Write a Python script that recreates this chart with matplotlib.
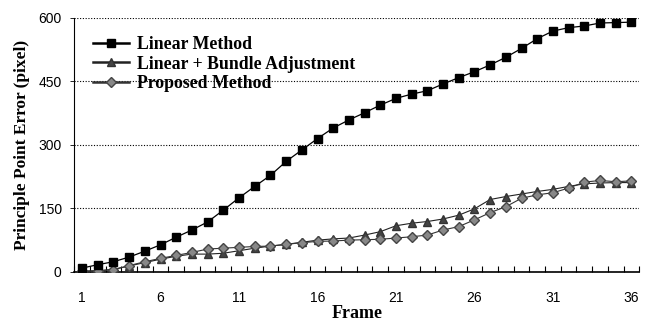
import matplotlib
matplotlib.use("Agg")
import matplotlib.pyplot as plt
import numpy as np

frames = list(range(1, 37))
linear = [9, 17, 24, 35, 49, 64, 82, 99, 118, 146, 175, 202, 228, 261, 288, 315,
          340, 359, 376, 394, 410, 420, 428, 444, 459, 473, 489, 507, 528, 551,
          569, 577, 581, 588, 589, 590]
linear_ba = [2, 3, 6, 14, 22, 30, 37, 42, 42, 44, 50, 56, 61, 65, 70, 75,
             78, 80, 87, 95, 109, 115, 119, 125, 134, 149, 171, 178, 184, 190,
             195, 202, 208, 210, 211, 211]
proposed = [1, 2, 5, 15, 24, 32, 39, 46, 54, 56, 58, 60, 61, 65, 69, 72,
            73, 75, 76, 77, 80, 83, 87, 99, 107, 123, 140, 154, 174, 182,
            187, 198, 212, 216, 213, 215]
y_ticks = [0, 150, 300, 450, 600]
x_labels = [1, 6, 11, 16, 21, 26, 31, 36]

serif_bold = {"family": "Liberation Serif", "weight": "bold"}
tick_font = ["Liberation Sans Narrow", "Liberation Sans", "DejaVu Sans"]

fig = plt.figure(figsize=(6.57, 3.26), dpi=100)
ax = fig.add_axes([0.113, 0.166, 0.860, 0.779])

ax.plot(frames, linear, color="black", lw=0.9, marker="s", ms=5.3,
        mfc="black", mec="black", label="Linear Method", zorder=4)
ax.plot(frames, linear_ba, color="#222222", lw=0.8, marker="^", ms=6,
        mfc="#444444", mec="#333333", label="Linear + Bundle Adjustment", zorder=3)
ax.plot(frames, proposed, color="#333333", lw=0.8, marker="D", ms=4.6,
        mfc="#888888", mec="#444444", label="Proposed Method", zorder=3)

ax.set_xlim(0.5, 36.5)
ax.set_ylim(0, 600)
ax.set_yticks(y_ticks)
ax.set_xticks(x_labels)
ax.set_xticks(np.arange(0.5, 37, 1), minor=True)
ax.tick_params(axis="x", which="major", length=0, pad=14)
ax.tick_params(axis="x", which="minor", direction="in", length=4, width=0.8)
ax.tick_params(axis="y", direction="out", length=3, width=0.6, pad=6)
for lab in ax.get_xticklabels() + ax.get_yticklabels():
    lab.set_family(tick_font)
    lab.set_fontsize(10)

ax.grid(axis="y", color="black", ls=(0, (1, 1.5)), lw=0.8)
for side in ("top", "right"):
    ax.spines[side].set_visible(False)
ax.spines["left"].set_linestyle((0, (1, 1)))
ax.spines["left"].set_linewidth(0.8)
ax.spines["bottom"].set_linewidth(1.2)

ax.set_xlabel("Frame", fontdict=serif_bold, fontsize=13, labelpad=0)
ax.set_ylabel("Principle Point Error (pixel)", fontdict=serif_bold, fontsize=12.5, labelpad=6)

leg = ax.legend(loc="upper left", bbox_to_anchor=(0.021, 0.955), frameon=False,
                prop={"family": "Liberation Serif", "weight": "bold", "size": 12.8},
                handlelength=2.0, handletextpad=0.45, labelspacing=0.12,
                borderaxespad=0)
for line in leg.get_lines():
    line.set_linewidth(1.8)

fig.savefig("out.png", dpi=100)
